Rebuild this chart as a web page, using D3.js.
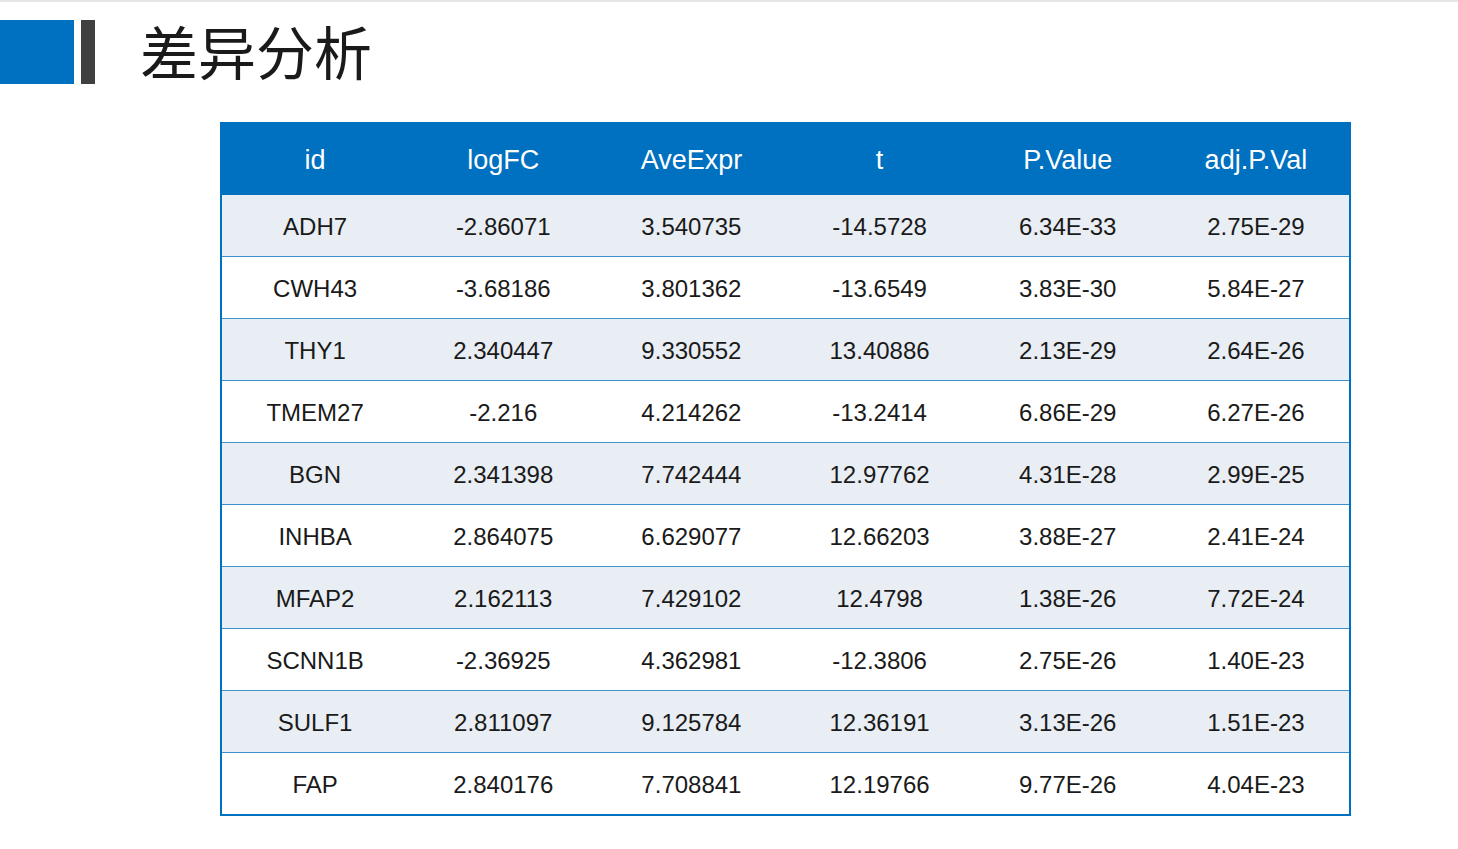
<!DOCTYPE html>
<html><head><meta charset="utf-8">
<script src="https://cdn.jsdelivr.net/npm/d3@7"></script>
<style>body{margin:0;background:#fff}</style></head>
<body><svg id="c" width="1458" height="849"></svg>
<script>
const headers=["id","logFC","AveExpr","t","P.Value","adj.P.Val"];
const ids=["ADH7","CWH43","THY1","TMEM27","BGN","INHBA","MFAP2","SCNN1B","SULF1","FAP"];
const logFC=["-2.86071","-3.68186","2.340447","-2.216","2.341398","2.864075","2.162113","-2.36925","2.811097","2.840176"];
const aveExpr=["3.540735","3.801362","9.330552","4.214262","7.742444","6.629077","7.429102","4.362981","9.125784","7.708841"];
const tVals=["-14.5728","-13.6549","13.40886","-13.2414","12.97762","12.66203","12.4798","-12.3806","12.36191","12.19766"];
const pVals=["6.34E-33","3.83E-30","2.13E-29","6.86E-29","4.31E-28","3.88E-27","1.38E-26","2.75E-26","3.13E-26","9.77E-26"];
const adjP=["2.75E-29","5.84E-27","2.64E-26","6.27E-26","2.99E-25","2.41E-24","7.72E-24","1.40E-23","1.51E-23","4.04E-23"];
const rows=ids.map((d,i)=>[d,logFC[i],aveExpr[i],tVals[i],pVals[i],adjP[i]]);
const svg=d3.select("#c");
const F="Liberation Sans, Arial, sans-serif";
svg.append("line").attr("x1",0).attr("x2",1458).attr("y1",1).attr("y2",1).attr("stroke","#e6e6e6").attr("stroke-width",2);
svg.append("rect").attr("x",0).attr("y",20).attr("width",74).attr("height",64).attr("fill","#0070C0");
svg.append("rect").attr("x",81).attr("y",20).attr("width",14).attr("height",64).attr("fill","#404040");
svg.append("text").attr("x",140).attr("y",75).attr("font-size",58).attr("font-family","Noto Sans CJK SC").attr("fill","#1a1a1a").text("差异分析");
const x=d3.scaleBand().domain(d3.range(6)).range([221,1350]);
const y=d3.scaleBand().domain(d3.range(10)).range([195,815]);
const g=svg.append("g");
g.append("rect").attr("x",221).attr("y",123).attr("width",1129).attr("height",72).attr("fill","#0070C0");
g.selectAll(".h").data(headers).join("text").attr("x",(d,i)=>x(i)+x.bandwidth()/2).attr("y",169)
 .attr("text-anchor","middle").attr("font-size",27).attr("font-family",F).attr("fill","#fff").text(d=>d);
const r=g.selectAll(".r").data(rows).join("g").attr("transform",(d,i)=>`translate(0,${y(i)})`);
r.append("rect").attr("x",221).attr("width",1129).attr("height",y.bandwidth()).attr("fill",(d,i)=>i%2==0?"#E9EDF4":"#fff");
r.append("line").attr("x1",221).attr("x2",1350).attr("y1",y.bandwidth()).attr("y2",y.bandwidth()).attr("stroke","#0070C0").attr("stroke-width",1.5);
r.selectAll("text").data(d=>d).join("text").attr("x",(d,i)=>x(i)+x.bandwidth()/2).attr("y",40)
 .attr("text-anchor","middle").attr("font-size",24).attr("font-family",F).attr("fill","#1a1a1a").text(d=>d);
g.append("rect").attr("x",221).attr("y",123).attr("width",1129).attr("height",692).attr("fill","none").attr("stroke","#0070C0").attr("stroke-width",2);
</script></body></html>
